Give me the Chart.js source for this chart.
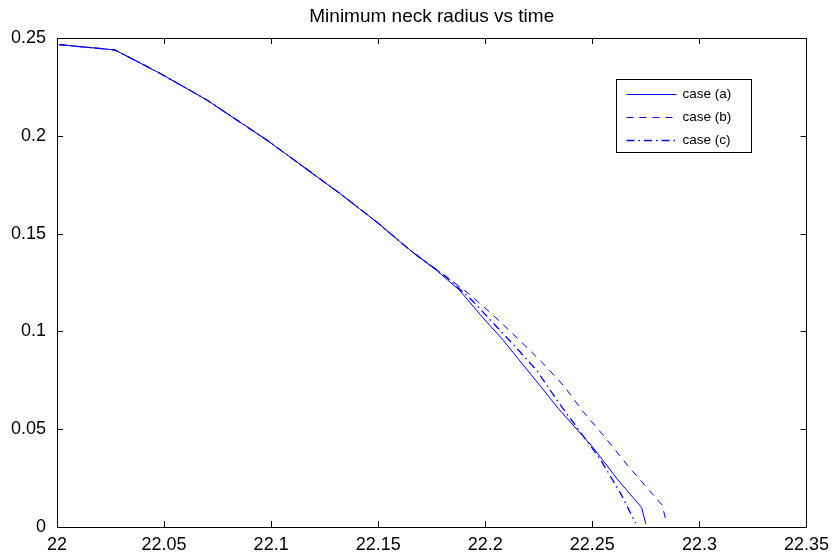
<!DOCTYPE html>
<html>
<head>
<meta charset="utf-8">
<script src="https://cdn.jsdelivr.net/npm/chart.js@4.4.0/dist/chart.umd.min.js"></script>
<style>
  html, body { margin: 0; padding: 0; background: #fff; }
  #wrap { width: 836px; height: 554px; }
</style>
</head>
<body>
<div id="wrap"><canvas id="c" width="836" height="554"></canvas></div>
<script>
// ---- data ----
const chartTitle = "Minimum neck radius vs time";
const seriesLabels = ["case (a)", "case (b)", "case (c)"];

// common early part (all three cases overlap here)
const sharedTime   = [22.001, 22.027, 22.048, 22.070, 22.098, 22.132, 22.150, 22.166];
const sharedRadius = [0.2466, 0.2439, 0.2320, 0.2183, 0.1978, 0.1706, 0.1553, 0.1405];

const caseATime   = [22.177, 22.188, 22.1985, 22.208, 22.217, 22.226, 22.234, 22.250, 22.262, 22.273, 22.275];
const caseARadius = [0.1314, 0.1210, 0.1075, 0.0960, 0.0838, 0.0717, 0.0607, 0.0411, 0.0240, 0.0100, 0.0014];

const caseBTime   = [22.180, 22.192, 22.203, 22.216, 22.228, 22.2368, 22.2453, 22.2562, 22.2663, 22.2764, 22.2826, 22.2845];
const caseBRadius = [0.1295, 0.1195, 0.1090, 0.0955, 0.0825, 0.0720, 0.0595, 0.0455, 0.0317, 0.0189, 0.0112, 0.0027];

const caseCTime   = [22.1816, 22.1939, 22.2041, 22.2142, 22.2242, 22.2344, 22.2437, 22.2539, 22.2632, 22.2702];
const caseCRadius = [0.1280, 0.1158, 0.1038, 0.0920, 0.0798, 0.0634, 0.0496, 0.0343, 0.0172, 0.0020];

const xTicks = [22, 22.05, 22.1, 22.15, 22.2, 22.25, 22.3, 22.35];
const yTicks = [0, 0.05, 0.1, 0.15, 0.2, 0.25];

// ---- build ----
function toPoints(ts, rs) { return ts.map((t, i) => ({ x: t, y: rs[i] })); }
const ptsA = toPoints(sharedTime.concat(caseATime), sharedRadius.concat(caseARadius));
const ptsB = toPoints(sharedTime.concat(caseBTime), sharedRadius.concat(caseBRadius));
const ptsC = toPoints(sharedTime.concat(caseCTime), sharedRadius.concat(caseCRadius));

const FONT = '"Liberation Sans", Arial, Helvetica, sans-serif';
const fmt = v => String(parseFloat(Number(v).toFixed(2)));

const boxPlugin = {
  id: 'matlabBox',
  afterLayout(chart) {
    // centre the title over the plotting box, as in the reference
    if (chart.titleBlock) {
      chart.titleBlock.left = chart.chartArea.left;
      chart.titleBlock.right = chart.chartArea.right;
      chart.titleBlock.width = chart.chartArea.right - chart.chartArea.left;
    }
  },
  afterDraw(chart) {
    const ctx = chart.ctx, a = chart.chartArea;
    const xs = chart.scales.x, ys = chart.scales.y;
    const tl = 6;
    ctx.save();
    ctx.strokeStyle = '#000';
    ctx.lineWidth = 1;
    ctx.strokeRect(Math.round(a.left) + 0.5, Math.round(a.top) + 0.5,
                   Math.round(a.right - a.left), Math.round(a.bottom - a.top));
    ctx.beginPath();
    xTicks.forEach(v => {
      const px = Math.round(xs.getPixelForValue(v)) + 0.5;
      ctx.moveTo(px, a.bottom); ctx.lineTo(px, a.bottom - tl);
      ctx.moveTo(px, a.top); ctx.lineTo(px, a.top + tl);
    });
    yTicks.forEach(v => {
      const py = Math.round(ys.getPixelForValue(v)) + 0.5;
      ctx.moveTo(a.left, py); ctx.lineTo(a.left + tl, py);
      ctx.moveTo(a.right, py); ctx.lineTo(a.right - tl, py);
    });
    ctx.stroke();

    // legend box
    const bx = Math.round(a.right - 190) + 0.5, by = Math.round(a.top + 41) + 0.5;
    const bw = 135, bh = 73;
    ctx.fillStyle = '#fff';
    ctx.fillRect(bx, by, bw, bh);
    ctx.strokeStyle = '#000';
    ctx.strokeRect(bx, by, bw, bh);
    ctx.font = '13.5px ' + FONT;
    ctx.textBaseline = 'middle';
    ctx.textAlign = 'left';
    chart.data.datasets.forEach((ds, i) => {
      const yy = by + 14.5 + i * 23;
      ctx.save();
      ctx.strokeStyle = ds.borderColor;
      ctx.lineWidth = ds.borderWidth;
      ctx.setLineDash(ds.borderDash || []);
      ctx.beginPath();
      ctx.moveTo(bx + 10, Math.round(yy) + 0.5);
      ctx.lineTo(bx + 60, Math.round(yy) + 0.5);
      ctx.stroke();
      ctx.restore();
      ctx.fillStyle = '#000';
      ctx.fillText(ds.label, bx + 66, yy);
    });
    ctx.restore();
  }
};

new Chart(document.getElementById('c'), {
  type: 'scatter',
  data: {
    datasets: [
      { label: seriesLabels[0], data: ptsA, showLine: true, borderColor: '#0000ff', borderWidth: 1, pointRadius: 0 },
      { label: seriesLabels[1], data: ptsB, showLine: true, borderColor: '#0000ff', borderWidth: 1, borderDash: [7, 6], pointRadius: 0 },
      { label: seriesLabels[2], data: ptsC, showLine: true, borderColor: '#0000ff', borderWidth: 1.3, borderDash: [8, 4, 1.5, 4], pointRadius: 0 }
    ]
  },
  options: {
    responsive: false,
    animation: false,
    devicePixelRatio: 1,
    layout: { padding: { left: 0, right: 28, top: 0, bottom: 0 } },
    plugins: {
      legend: { display: false },
      tooltip: { enabled: false },
      title: {
        display: true, text: chartTitle, color: '#000',
        font: { family: FONT, size: 19, weight: 'normal', lineHeight: 1.2 },
        padding: { top: 5, bottom: 10.2 }
      }
    },
    scales: {
      x: {
        type: 'linear', min: 22, max: 22.35,
        afterBuildTicks: s => { s.ticks = xTicks.map(v => ({ value: v })); },
        afterFit: s => { s.height = 27; },
        ticks: { color: '#000', font: { family: FONT, size: 18 }, padding: 7, maxRotation: 0, autoSkip: false, callback: v => fmt(v) },
        grid: { display: false, drawTicks: false },
        border: { display: false }
      },
      y: {
        type: 'linear', min: 0, max: 0.25,
        afterBuildTicks: s => { s.ticks = yTicks.map(v => ({ value: v })); },
        afterFit: s => { s.width = 57; },
        ticks: { color: '#000', font: { family: FONT, size: 18 }, padding: 11, autoSkip: false, callback: v => fmt(v) },
        grid: { display: false, drawTicks: false },
        border: { display: false }
      }
    }
  },
  plugins: [boxPlugin]
});
</script>
</body>
</html>
